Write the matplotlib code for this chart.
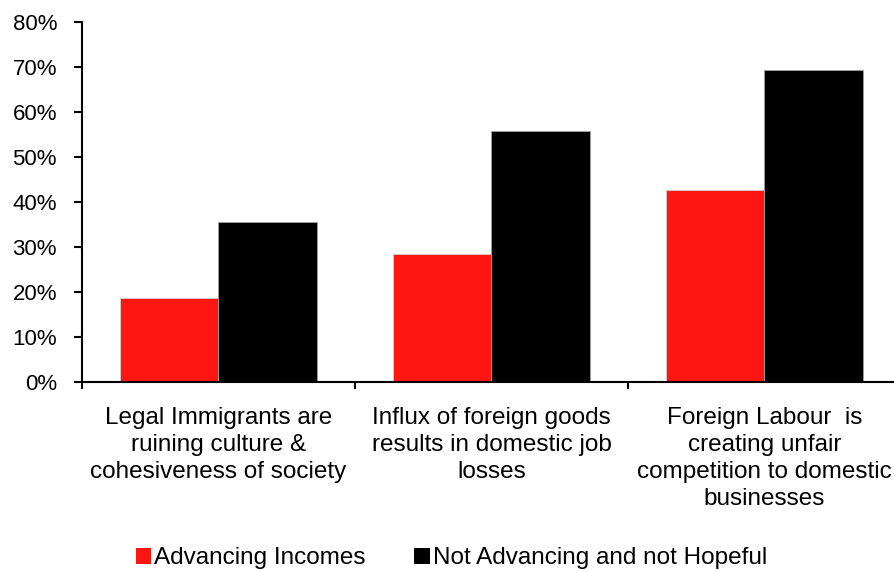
import numpy as np
import matplotlib.pyplot as plt
from matplotlib.patches import Patch
from matplotlib.ticker import FixedLocator, PercentFormatter

#--------------------
# data

categories = [
    "Legal Immigrants are\nruining culture &\ncohesiveness of society",
    "Influx of foreign goods\nresults in domestic job\nlosses",
    "Foreign Labour  is\ncreating unfair\ncompetition to domestic\nbusinesses",
]
series_names = ["Advancing Incomes", "Not Advancing and not Hopeful"]
advancing = [18.6, 28.4, 42.7]
not_advancing = [35.6, 55.8, 69.3]
y_ticks = [0, 10, 20, 30, 40, 50, 60, 70, 80]

red = '#ff1610'
black = '#000000'

#--------------------
# drawing

plt.rcParams['font.family'] = ['Liberation Sans', 'DejaVu Sans']

fig = plt.figure(figsize=(8.94, 5.72), dpi=100, facecolor='w')
ax = fig.add_axes([82 / 894, 190 / 572, 819 / 894, 360 / 572])

x = np.arange(len(categories))
w = 0.36
ax.bar(x - w / 2, advancing, w, color=red, edgecolor='#d0d0d0', linewidth=0.6)
ax.bar(x + w / 2, not_advancing, w, color=black, edgecolor='#a0a0a0', linewidth=0.6)

ax.set_xlim(-0.5, len(categories) - 0.5)
ax.set_ylim(0, 80)
ax.set_yticks(y_ticks)
ax.yaxis.set_major_formatter(PercentFormatter(decimals=0))

ax.set_xticks(x)
ax.set_xticklabels(categories, fontsize=17.5, linespacing=1.3)
ax.xaxis.set_minor_locator(FixedLocator(np.arange(-0.5, len(categories), 1.0)))
ax.tick_params(axis='x', which='major', length=0, pad=18)
ax.tick_params(axis='x', which='minor', length=5, width=1.5, direction='out')
ax.tick_params(axis='y', length=6, width=1.5, direction='out', labelsize=16, pad=12)

for s in ['top', 'right']:
    ax.spines[s].set_visible(False)
for s in ['left', 'bottom']:
    ax.spines[s].set_linewidth(1.5)

handles = [Patch(facecolor=red), Patch(facecolor=black)]
fig.legend(handles, series_names, loc='center', bbox_to_anchor=(0.505, 0.024),
           ncol=2, frameon=False, fontsize=17.5, handlelength=0.65, handleheight=0.65,
           handletextpad=0.12, columnspacing=2.0)

plt.savefig('out.png', dpi=100)
